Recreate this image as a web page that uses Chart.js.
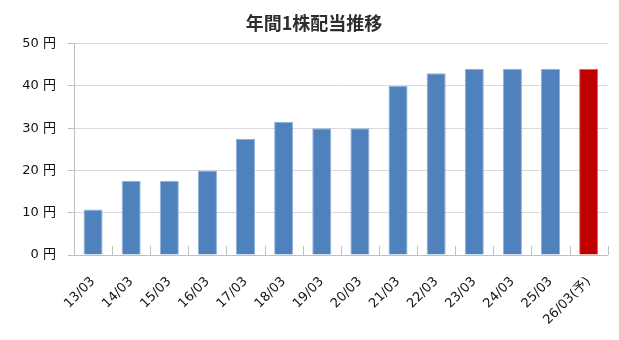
<!DOCTYPE html>
<html>
<head>
<meta charset="utf-8">
<script src="https://cdn.jsdelivr.net/npm/chart.js@4/dist/chart.umd.min.js"></script>
<style>
  html, body { margin: 0; padding: 0; background: #fff; }
  #wrap { width: 619px; height: 340px; }
</style>
</head>
<body>
<div id="wrap"><canvas id="c" width="619" height="340"></canvas></div>
<script>
// Fiscal years (March year-end); the last one is a forecast
const categories = ['13/03', '14/03', '15/03', '16/03', '17/03', '18/03', '19/03',
                    '20/03', '21/03', '22/03', '23/03', '24/03', '25/03', '26/03(予)'];
// Annual dividend per share (yen)
const dividends = [10.75, 17.5, 17.5, 20, 27.5, 31.5, 30, 30, 40, 43, 44, 44, 44, 44];
// Forecast flag per year
const isForecast = [false, false, false, false, false, false, false,
                    false, false, false, false, false, false, true];
const yTicks = [0, 10, 20, 30, 40, 50];
const titleText = '年間1株配当推移';

const FONT = "'DejaVu Sans', 'Noto Sans CJK JP', sans-serif";

// short tick marks standing up from the category axis between bars
const innerTicks = {
  id: 'innerTicks',
  afterDatasetsDraw(chart) {
    const x = chart.scales.x, area = chart.chartArea, ctx = chart.ctx;
    const n = categories.length;
    const step = x.getPixelForValue(1) - x.getPixelForValue(0);
    ctx.save();
    ctx.strokeStyle = '#bfbfbf';
    ctx.lineWidth = 1;
    for (let i = 1; i <= n; i++) {
      const px = Math.round(x.getPixelForValue(i - 1) + step / 2) + 0.5;
      ctx.beginPath();
      ctx.moveTo(px, area.bottom - 9);
      ctx.lineTo(px, area.bottom);
      ctx.stroke();
    }
    ctx.restore();
  }
};

new Chart(document.getElementById('c'), {
  type: 'bar',
  data: {
    labels: categories,
    datasets: [{
      data: dividends,
      backgroundColor: isForecast.map(f => f ? '#c00000' : '#4f81bd'),
      borderColor: isForecast.map(f => f ? '#d96a6a' : '#8fb0d9'),
      borderWidth: 1,
      barPercentage: 0.5,
      categoryPercentage: 1.0
    }]
  },
  options: {
    responsive: false,
    animation: false,
    layout: { padding: { left: 9, right: 0, top: 0, bottom: 0 } },
    plugins: {
      legend: { display: false },
      tooltip: { enabled: false },
      title: {
        display: true,
        text: titleText,
        color: '#2e2e2e',
        font: { family: "'Noto Sans CJK JP', sans-serif", size: 18, weight: 'bold' },
        padding: { top: 12, bottom: 10 }
      }
    },
    scales: {
      x: {
        grid: { display: true, drawOnChartArea: false, drawTicks: false },
        border: { display: true, color: '#bfbfbf', width: 1 },
        ticks: {
          color: '#111111',
          font: { family: FONT, size: 13 },
          minRotation: 45,
          maxRotation: 45,
          autoSkip: false,
          padding: 19
        },
        afterFit(s) { s.height = 85; }
      },
      y: {
        min: 0,
        max: 50,
        afterBuildTicks(s) { s.ticks = yTicks.map(v => ({ value: v })); },
        grid: { color: '#d9d9d9', lineWidth: 1, tickLength: 6, tickColor: '#bfbfbf' },
        border: { display: true, color: '#bfbfbf', width: 1 },
        ticks: {
          color: '#111111',
          font: { family: FONT, size: 13 },
          padding: 12,
          callback: v => v + ' 円'
        },
        afterFit(s) { s.width = 65; }
      },
      // empty margin on the right of the plot
      rightGap: {
        type: 'linear',
        position: 'right',
        display: true,
        grid: { display: false },
        border: { display: false },
        ticks: { display: false },
        afterFit(s) { s.width = 9; }
      }
    }
  },
  plugins: [innerTicks]
});
</script>
</body>
</html>
